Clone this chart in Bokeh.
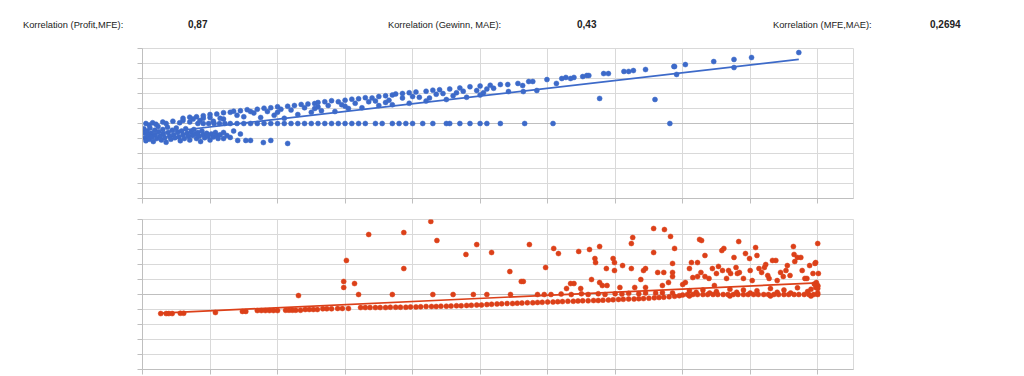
from bokeh.plotting import figure
from bokeh.layouts import column
from bokeh.models import Range1d, SingleIntervalTicker, Span, CustomJSTickFormatter, Div
from bokeh.embed import file_html
from bokeh.resources import INLINE

# ---------------- header texts ----------------
header_labels = ["Korrelation (Profit,MFE):", "Korrelation (Gewinn, MAE):", "Korrelation (MFE,MAE):"]
header_values = ["0,87", "0,43", "0,2694"]

# ---------------- top chart (blue) : (x, y) pairs ----------------
top_cluster = [
    (0.02, -0.35), (0.03, -0.62), (0.04, -0.95), (0.05, -1.15), (0.07, -0.5), (0.08, -0.8),
    (0.10, -1.05), (0.11, -0.3), (0.13, -0.65), (0.14, -0.9), (0.16, -1.2), (0.18, -0.45),
    (0.19, -0.75), (0.21, -1.0), (0.23, -0.2), (0.24, -0.55), (0.26, -0.85), (0.28, -1.1),
    (0.30, -0.4), (0.31, -0.7), (0.33, -0.95), (0.35, -1.25), (0.37, -0.25), (0.38, -0.6),
    (0.40, -0.85), (0.42, -1.05), (0.44, -0.45), (0.46, -0.75), (0.48, -0.95), (0.50, -0.3),
    (0.52, -0.6), (0.54, -0.9), (0.56, -1.15), (0.58, -0.5), (0.60, -0.75), (0.62, -1.0),
    (0.64, -0.35), (0.66, -0.65), (0.68, -0.85), (0.70, -1.1), (0.72, -0.55), (0.74, -0.8),
    (0.76, -0.4), (0.78, -0.7), (0.80, -1.0), (0.82, -0.6), (0.84, -0.85), (0.86, -1.2),
    (0.88, -0.5), (0.90, -0.75), (0.92, -0.95), (0.95, -0.65), (0.97, -0.85), (1.00, -1.1),
    (1.02, -0.7), (1.05, -0.9), (1.08, -0.6), (1.10, -0.8), (1.12, -1.0), (1.15, -0.75),
    (0.05, 0.0), (0.10, -0.1), (0.15, 0.05), (0.20, -0.05), (0.30, 0.1), (0.35, 0.0),
    (0.45, 0.15), (0.55, 0.05), (0.60, 0.2), (0.70, 0.1), (0.75, 0.3), (0.85, 0.2),
    (0.90, 0.35), (1.00, 0.4), (1.05, 0.15),
]
top_low_scatter = [
    (1.20, -1.0), (1.30, -0.93), (1.41, -1.13), (1.53, -1.13), (1.60, -1.13), (1.79, -1.27),
    (1.90, -1.13), (2.15, -1.33), (1.20, -0.6), (1.25, -0.8), (1.35, -0.5), (1.45, -0.7),
]
top_zero_row = [
    (0.82, 0.0), (0.90, 0.0), (0.98, 0.0), (1.06, 0.0), (1.14, 0.0), (1.22, 0.0),
    (1.30, 0.0), (1.40, 0.0), (1.50, 0.0), (1.60, 0.0), (1.70, 0.0), (1.80, 0.0), (1.90, 0.0),
    (2.00, 0.0), (2.10, 0.0), (2.20, 0.0), (2.30, 0.0), (2.40, 0.0), (2.50, 0.0), (2.60, 0.0),
    (2.70, 0.0), (2.80, 0.0), (2.90, 0.0), (3.00, 0.0), (3.10, 0.0), (3.20, 0.0), (3.30, 0.0),
    (3.45, 0.0), (3.55, 0.0), (3.70, 0.0), (3.80, 0.0), (3.90, 0.0), (4.00, 0.0), (4.15, 0.0),
    (4.30, 0.0), (4.50, 0.0), (4.55, 0.0), (4.70, 0.0), (4.85, 0.0), (5.00, 0.0), (5.10, 0.0),
    (5.30, 0.0), (5.66, 0.0), (6.08, 0.0), (7.81, 0.0),
]
top_band_upper = [
    (0.60, 0.35), (0.70, 0.42), (0.80, 0.45), (0.90, 0.52), (1.00, 0.6), (1.10, 0.63),
    (1.20, 0.72), (1.30, 0.75), (1.35, 0.82), (1.45, 0.85), (1.55, 0.92), (1.60, 0.8),
    (1.70, 0.95), (1.80, 1.02), (1.90, 1.05), (2.00, 1.12), (2.05, 0.95), (2.15, 1.15),
    (2.25, 1.2), (2.35, 1.27), (2.45, 1.3), (2.55, 1.33), (2.60, 1.4), (2.70, 1.45),
    (2.80, 1.52), (2.90, 1.45), (3.00, 1.55), (3.10, 1.62), (3.20, 1.65), (3.30, 1.72),
    (3.40, 1.7), (3.50, 1.8), (3.60, 1.85), (3.70, 1.9), (3.75, 1.97), (3.85, 2.0),
    (3.95, 2.05), (4.05, 2.1), (4.20, 2.15), (4.30, 2.22), (4.40, 2.25), (4.55, 2.3),
    (4.70, 2.37), (4.85, 2.45), (5.00, 2.5), (5.15, 2.55),
]
top_band_mid = [
    (1.15, 0.35), (1.40, 0.55), (1.65, 0.7), (1.85, 0.8), (2.20, 0.9), (2.40, 1.05),
    (2.60, 1.1), (2.75, 1.2), (2.95, 1.25), (3.15, 1.35), (3.35, 1.45), (3.45, 1.5),
    (3.65, 1.55), (3.85, 1.7), (4.00, 1.8), (4.10, 1.75), (4.35, 1.95), (4.45, 2.0),
    (4.65, 2.05), (4.75, 2.15), (4.95, 2.2), (5.10, 2.3), (5.20, 2.35), (2.00, 0.75),
    (2.55, 1.0), (3.00, 1.15), (3.60, 1.4), (4.25, 1.7), (4.60, 1.85), (5.05, 2.05),
]
top_band_lower = [
    (1.20, 0.3), (1.50, 0.45), (1.75, 0.4), (1.95, 0.55), (2.10, 0.35), (2.30, 0.6),
    (2.50, 0.75), (2.65, 0.85), (2.85, 0.8), (3.05, 1.0), (3.25, 1.05), (3.50, 1.2),
    (3.70, 1.25), (3.95, 1.35), (4.20, 1.5), (4.50, 1.6), (4.80, 1.75), (5.00, 1.9),
]
top_right = [
    (5.30, 2.6), (5.41, 2.6), (5.56, 2.67), (5.63, 2.53), (5.72, 2.8), (5.78, 2.8),
    (5.99, 2.93), (6.13, 2.67), (6.21, 3.0), (6.27, 3.07), (6.34, 3.0), (6.39, 3.07),
    (6.52, 3.13), (6.58, 3.2), (6.61, 3.2), (6.83, 3.33), (6.90, 3.33), (7.13, 3.47),
    (7.20, 3.47), (7.27, 3.53), (7.45, 3.6), (7.87, 3.8), (7.88, 3.8), (8.04, 3.93),
    (8.46, 4.13), (8.76, 4.27), (9.02, 4.4), (9.72, 4.73),
    (5.42, 2.13), (5.64, 2.13), (5.84, 2.2), (7.91, 3.27), (8.76, 3.73),
    (6.77, 1.67), (7.59, 1.6),
]
top_trend_x = [0.0, 9.72]
top_trend_y = [-0.75, 4.27]

# ---------------- bottom chart (red) ----------------
bottom_low_row = [
    (0.27, -1.27), (0.35, -1.27), (0.39, -1.27), (0.44, -1.27), (0.56, -1.25), (0.61, -1.25),
    (1.08, -1.2), (1.48, -1.13), (1.53, -1.13), (1.70, -1.07), (1.76, -1.07), (1.82, -1.07),
    (1.88, -1.07), (1.94, -1.07), (2.00, -1.07), (2.12, -1.05), (2.17, -1.05), (2.22, -1.05),
    (2.27, -1.05), (2.34, -1.05), (2.41, -1.0), (2.47, -1.0), (2.53, -1.0), (2.59, -1.0),
    (2.67, -0.95), (2.73, -0.95), (2.80, -0.95), (2.89, -0.93), (2.96, -0.93), (3.05, -0.93),
    (3.23, -0.87), (3.30, -0.87), (3.37, -0.87), (3.45, -0.87), (3.52, -0.87), (3.60, -0.87),
    (3.67, -0.85), (3.75, -0.85), (3.82, -0.85), (3.90, -0.85), (3.97, -0.83), (4.05, -0.83),
    (4.12, -0.82), (4.20, -0.8), (4.28, -0.8), (4.35, -0.8), (4.42, -0.78), (4.50, -0.78),
    (4.57, -0.77), (4.65, -0.75), (4.72, -0.75), (4.80, -0.73), (4.87, -0.72), (4.95, -0.7),
    (5.02, -0.7), (5.10, -0.67), (5.17, -0.65), (5.25, -0.63), (5.32, -0.62), (5.40, -0.6),
    (5.48, -0.6), (5.55, -0.58), (5.62, -0.57), (5.70, -0.55), (5.78, -0.55), (5.85, -0.53),
    (5.92, -0.52), (6.00, -0.5), (6.08, -0.5), (6.15, -0.48), (6.22, -0.47), (6.30, -0.45),
    (6.38, -0.45), (6.45, -0.43), (6.52, -0.42), (6.60, -0.42), (6.68, -0.4), (6.75, -0.4),
    (6.82, -0.38), (6.90, -0.37), (6.97, -0.35), (7.05, -0.33), (7.12, -0.32), (7.20, -0.3),
    (7.28, -0.3), (7.35, -0.28), (7.42, -0.27), (7.50, -0.25), (7.58, -0.22), (7.65, -0.2),
    (7.72, -0.18), (7.80, -0.15), (7.88, -0.12), (7.95, -0.08),
]
bottom_zero_row = [
    (2.31, -0.07), (3.20, 0.0), (3.70, 0.0), (4.30, 0.0), (4.60, 0.0), (4.90, 0.0), (5.10, 0.0),
    (5.45, 0.0), (5.85, 0.0), (5.95, 0.0), (6.05, 0.0), (6.20, 0.03), (6.35, 0.0), (6.50, 0.05),
    (6.60, 0.0), (6.75, 0.05), (6.85, 0.0), (7.00, 0.05), (7.10, 0.03), (7.20, 0.08), (7.35, 0.05),
    (7.45, 0.1), (7.60, 0.1), (7.70, 0.12), (7.85, 0.1), (8.00, -0.03), (8.07, 0.0), (8.15, 0.0),
    (8.22, 0.0), (8.30, 0.0), (8.37, 0.0), (8.45, 0.0), (8.52, 0.0), (8.60, 0.0), (8.67, 0.0),
    (8.75, 0.0), (8.82, 0.0), (8.90, 0.0), (8.97, 0.0), (9.05, 0.0), (9.12, 0.0), (9.20, 0.0),
    (9.27, 0.0), (9.35, 0.0), (9.42, 0.0), (9.50, 0.0), (9.57, 0.0), (9.65, 0.0), (9.72, 0.0),
    (9.80, 0.0), (9.87, 0.0), (9.94, 0.0), (10.0, 0.0), (10.0, 0.1),
    (8.10, -0.1), (8.40, 0.1), (8.70, -0.1), (9.00, 0.1), (9.30, -0.1), (9.60, 0.1), (9.90, -0.1),
]
bottom_above_zero = [
    (8.10, 0.25), (8.30, 0.3), (8.50, 0.2), (8.70, 0.35), (8.90, 0.3), (9.10, 0.25), (9.30, 0.4),
    (9.50, 0.3), (9.70, 0.45), (9.90, 0.35), (10.0, 0.55), (9.95, 0.7), (8.20, 0.15), (8.80, 0.15),
    (9.40, 0.15), (9.85, 0.2),
]
bottom_upper = [
    (2.98, 0.87), (2.98, 0.47), (3.02, 2.27), (3.14, 0.73), (3.35, 4.0), (3.87, 4.13), (3.87, 1.73),
    (4.27, 4.87), (4.36, 3.6), (4.79, 2.67), (4.95, 3.33), (5.17, 2.8),
    (5.44, 1.53), (5.61, 0.87), (5.64, 0.87), (5.73, 3.33), (5.97, 1.8), (6.09, 3.07), (6.16, 2.73),
    (6.28, 0.4), (6.34, 0.73), (6.39, 0.73), (6.46, 2.87), (6.49, 0.4), (6.62, 3.0), (6.65, 1.0),
    (6.70, 2.4), (6.71, 2.13), (6.77, 3.2), (6.77, 0.8), (6.81, 0.6), (6.87, 1.73), (6.88, 0.6),
    (6.97, 2.4), (6.99, 1.6), (6.99, 2.13), (7.11, 1.93), (7.07, 0.47), (7.24, 3.4), (7.26, 3.8),
    (7.24, 1.73), (7.29, 0.47), (7.38, 1.0), (7.42, 1.6), (7.45, 1.73), (7.45, 0.47), (7.57, 4.4),
    (7.57, 2.8), (7.63, 1.47), (7.72, 1.47), (7.73, 4.33), (7.70, 0.6), (7.82, 3.87), (7.85, 2.07),
    (7.85, 1.47), (7.85, 1.2), (7.88, 3.07), (7.79, 0.8), (8.00, 0.67), (8.04, 0.8), (8.10, 1.73),
    (8.13, 2.13), (8.15, 1.13), (8.22, 1.2), (8.22, 2.13), (8.25, 3.67), (8.28, 3.6), (8.27, 1.47),
    (8.33, 2.6), (8.33, 1.2), (8.39, 1.07), (8.44, 1.73), (8.47, 0.6), (8.50, 1.4), (8.53, 1.87),
    (8.58, 2.93), (8.61, 3.07), (8.59, 1.6), (8.65, 1.07), (8.68, 1.6), (8.71, 1.4), (8.76, 2.47),
    (8.79, 1.8), (8.83, 3.53), (8.81, 1.4), (8.84, 1.47), (8.90, 1.07), (8.93, 2.73), (8.99, 2.4),
    (9.00, 1.6), (9.03, 0.93), (9.08, 3.13), (9.10, 2.6), (9.13, 1.73), (9.17, 1.47), (9.21, 1.8),
    (9.23, 2.0), (9.26, 1.27), (9.28, 1.07), (9.33, 2.27), (9.38, 2.27), (9.40, 0.93), (9.45, 1.47),
    (9.49, 1.2), (9.53, 1.6), (9.55, 1.93), (9.59, 1.27), (9.64, 3.2), (9.65, 2.67), (9.66, 2.2),
    (9.70, 2.47), (9.75, 2.47), (9.77, 1.6), (9.81, 1.07), (9.84, 1.07), (9.88, 1.93), (9.93, 1.4),
    (9.96, 2.07), (9.97, 2.13), (10.0, 3.4), (10.01, 1.4), (9.98, 0.8), (10.0, 0.6), (9.97, 0.47),
    (10.0, 0.4),
]
bottom_trend_x = [0.27, 10.0]
bottom_trend_y = [-1.24, 0.78]

BLUE = "#3d6ac9"
RED = "#dc4019"
GRID = "#d9d9d9"
AXIS = "#bfbfbf"


def unzip(*groups):
    xs, ys = [], []
    for g in groups:
        for x, y in g:
            xs.append(x)
            ys.append(y)
    return xs, ys


def scatter_chart(xs, ys, tx, ty, color, height, btop, bbottom):
    p = figure(width=1024, height=height, x_range=Range1d(0, 10.53), y_range=Range1d(-5, 5),
               output_backend="svg", toolbar_location=None,
               min_border_left=142, min_border_right=171,
               min_border_top=btop, min_border_bottom=bbottom)
    empty = CustomJSTickFormatter(code="return ''")
    for ax in (p.xaxis, p.yaxis):
        ax.ticker = SingleIntervalTicker(interval=1)
        ax.formatter = empty
        ax.major_label_text_font_size = "0px"
        ax.major_label_standoff = 0
        ax.major_tick_out = 5
        ax.major_tick_in = 0
        ax.minor_tick_out = 0
        ax.minor_tick_in = 0
        ax.axis_line_color = AXIS
        ax.major_tick_line_color = AXIS
    p.xgrid.ticker = SingleIntervalTicker(interval=1)
    p.ygrid.ticker = SingleIntervalTicker(interval=1)
    p.grid.grid_line_color = GRID
    p.outline_line_color = GRID
    p.add_layout(Span(location=0, dimension="width", line_color=AXIS, line_width=1,
                      level="underlay"))
    p.scatter(xs, ys, size=5, fill_color=color, line_color=color, line_width=0.5)
    p.line(tx, ty, line_color=color, line_width=1.7)
    return p


tx_, ty_ = unzip(top_cluster, top_low_scatter, top_zero_row, top_band_upper, top_band_mid,
                 top_band_lower, top_right)
bx_, by_ = unzip(bottom_low_row, bottom_zero_row, bottom_above_zero, bottom_upper)

top = scatter_chart(tx_, ty_, top_trend_x, top_trend_y, BLUE, 170, 8, 12)
bottom = scatter_chart(bx_, by_, bottom_trend_x, bottom_trend_y, RED, 166, 9, 7)

# header line as real HTML text (a Div is not frame-aligned with the plots)
label_x = [23, 388, 773]
value_x = [188, 577, 930]
spans = []
for lx, txt in zip(label_x, header_labels):
    spans.append(f'<span style="position:absolute;left:{lx}px;top:19px;font-size:9.3px;'
                 f'line-height:12px;white-space:nowrap;">{txt}</span>')
for vx, txt in zip(value_x, header_values):
    spans.append(f'<span style="position:absolute;left:{vx}px;top:19px;font-size:10px;'
                 f'font-weight:bold;line-height:12px;white-space:nowrap;">{txt}</span>')
header_html = ('<div style="position:relative;width:1024px;height:40px;'
               "font-family:'Liberation Sans',Arial,sans-serif;color:#222222;\">"
               + "".join(spans) + "</div>")
header = Div(text=header_html, width=1024, height=40, margin=0)

layout = column(header, top, bottom, spacing=0)
open("out.html", "w").write(file_html(layout, INLINE))
